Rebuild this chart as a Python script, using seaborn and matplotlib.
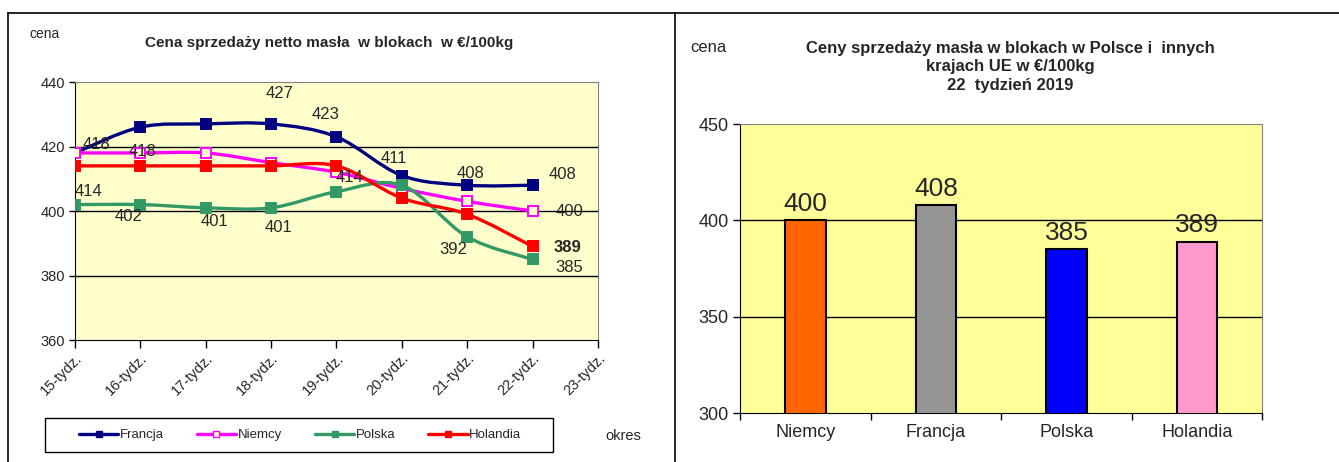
import numpy as np
import pandas as pd
import matplotlib.pyplot as plt
import matplotlib.transforms as mtransforms
import seaborn as sns
from matplotlib.path import Path
from matplotlib.patches import PathPatch, Rectangle
from matplotlib.lines import Line2D

sns.set_style("white")
plt.rcParams['font.family'] = ['Liberation Sans', 'DejaVu Sans']

# dane - wykres liniowy (tygodnie 15-22)
weeks = ['15-tydz.', '16-tydz.', '17-tydz.', '18-tydz.', '19-tydz.',
         '20-tydz.', '21-tydz.', '22-tydz.', '23-tydz.']
francja = [418, 426, 427, 427, 423, 411, 408, 408]
niemcy = [418, 418, 418, 415, 412, 407, 403, 400]
polska = [402, 402, 401, 401, 406, 408, 392, 385]
holandia = [414, 414, 414, 414, 414, 404, 399, 389]

# dane - wykres słupkowy (22 tydzień 2019)
bar_countries = ['Niemcy', 'Francja', 'Polska', 'Holandia']
bar_prices = [400, 408, 385, 389]

series = [
    ('Francja', francja, '#000080', '#000080'),
    ('Niemcy', niemcy, '#FF00FF', '#FFFFCC'),
    ('Polska', polska, '#339966', '#339966'),
    ('Holandia', holandia, '#FF0000', '#FF0000'),
]

# etykiety: (seria, indeks tygodnia, przesunięcie w pikselach, pogrubienie)
point_labels = [
    ('Francja', 0, (22, 8), False), ('Francja', 3, (8, 30), False),
    ('Francja', 4, (-11, 22), False), ('Francja', 5, (-8, 17), False),
    ('Francja', 6, (3, 12), False), ('Francja', 7, (30, 11), False),
    ('Niemcy', 1, (2, 1), False), ('Niemcy', 7, (37, 0), False),
    ('Holandia', 0, (14, -26), False), ('Holandia', 4, (13, -12), False),
    ('Holandia', 7, (35, -1), True),
    ('Polska', 1, (-12, -12), False), ('Polska', 2, (9, -14), False),
    ('Polska', 3, (7, -20), False), ('Polska', 6, (-14, -13), False),
    ('Polska', 7, (37, -8), False),
]


def smooth_path(xs, ys):
    # wygładzona linia jak w Excelu (krzywe Beziera przez punkty)
    pts = np.column_stack([xs, ys]).astype(float)
    n = len(pts)
    verts, codes = [pts[0]], [Path.MOVETO]
    for i in range(n - 1):
        p0, p1 = pts[max(i - 1, 0)], pts[i]
        p2, p3 = pts[i + 1], pts[min(i + 2, n - 1)]
        verts += [p1 + (p2 - p0) / 6, p2 - (p3 - p1) / 6, p2]
        codes += [Path.CURVE4] * 3
    return Path(verts, codes)


fig = plt.figure(figsize=(13.39, 4.62), dpi=100)

# ---------------- lewy wykres ----------------
ax1 = fig.add_axes([0.056, 0.264, 0.3906, 0.5585])
ax1.set_facecolor('#FFFFCC')
x_idx = np.arange(len(francja))
handles = []
for name, vals, col, face in series:
    ax1.add_patch(PathPatch(smooth_path(x_idx, vals), facecolor='none',
                            edgecolor=col, lw=2.4, zorder=3))
    sns.lineplot(x=x_idx, y=vals, ax=ax1, color=col, linewidth=0, marker='s',
                 markersize=6.5, markerfacecolor=face, markeredgecolor=col,
                 markeredgewidth=1.4, zorder=4)
    handles.append(Line2D([0], [0], color=col, lw=2.4, marker='s', markersize=5,
                          markerfacecolor=face, markeredgecolor=col))

lookup = {name: vals for name, vals, _, _ in series}
for name, i, (dx, dy), bold in point_labels:
    ax1.annotate(str(lookup[name][i]), (i, lookup[name][i]), xytext=(dx, dy),
                 textcoords='offset pixels', ha='center', va='center',
                 fontsize=12, fontweight='bold' if bold else 'normal', zorder=5)

ax1.set_xlim(0, 8)
ax1.set_ylim(360, 440)
ax1.set_yticks([360, 380, 400, 420, 440])
ax1.set_xticks(range(len(weeks)))
ax1.set_xticklabels(weeks, rotation=45, ha='right', va='top', rotation_mode='anchor')
off = mtransforms.ScaledTranslation(8 / 100, -2 / 100, fig.dpi_scale_trans)
for lab in ax1.get_xticklabels():
    lab.set_transform(lab.get_transform() + off)
for y in [380, 400, 420]:
    ax1.axhline(y, color='black', lw=1, zorder=1)
ax1.tick_params(axis='x', direction='out', length=6, width=1, color='black', labelsize=10.5, pad=2)
ax1.tick_params(axis='y', direction='out', length=4, width=1, color='black', labelsize=10.5, pad=3)
ax1.tick_params(bottom=True, left=True)
for s in ['left', 'bottom']:
    ax1.spines[s].set_color('black')
for s in ['top', 'right']:
    ax1.spines[s].set_color('#808080')
ax1.set_xlabel('')
ax1.set_ylabel('')

fig.text(329 / 1339, 1 - 43 / 462, 'Cena sprzedaży netto masła  w blokach  w €/100kg',
         ha='center', va='center', fontsize=11, fontweight='bold')
fig.text(44 / 1339, 1 - 34 / 462, 'cena', ha='center', va='center', fontsize=10)
fig.text(623 / 1339, 1 - 436 / 462, 'okres', ha='center', va='center', fontsize=10.5)

# legenda z osobną ramką
fig.add_artist(Rectangle((45 / 1339, 1 - 452 / 462), 508 / 1339, 34 / 462,
                         transform=fig.transFigure, facecolor='white',
                         edgecolor='black', lw=1, zorder=0))
leg = fig.legend(handles, [s[0] for s in series], loc='center',
                 bbox_to_anchor=(300 / 1339, 1 - 435 / 462), ncol=4,
                 fontsize=9.5, frameon=False, handlelength=3.0,
                 handletextpad=0.1, columnspacing=2.5)

# ---------------- prawy wykres ----------------
ax2 = fig.add_axes([0.553, 0.106, 0.3895, 0.6256])
ax2.set_facecolor('#FFFF99')
df_bar = pd.DataFrame({'kraj': bar_countries, 'cena': bar_prices})
bar_colors = ['#FF6600', '#969696', '#0000FF', '#FF99CC']
sns.barplot(data=df_bar, x='kraj', y='cena', hue='kraj', palette=bar_colors,
            saturation=1, width=0.31, edgecolor='black', linewidth=1.5,
            legend=False, ax=ax2, zorder=3)
for i, v in enumerate(bar_prices):
    ax2.annotate(str(v), (i, v), xytext=(0, 3), textcoords='offset points',
                 ha='center', va='bottom', fontsize=19, zorder=5)
ax2.set_ylim(300, 450)
ax2.set_xlim(-0.5, 3.5)
ax2.set_yticks([300, 350, 400, 450])
for y in [350, 400]:
    ax2.axhline(y, color='black', lw=1, zorder=1)
ax2.set_xticks([-0.5, 0.5, 1.5, 2.5, 3.5], minor=True)
ax2.tick_params(axis='x', which='major', length=0, labelsize=13, pad=8)
ax2.tick_params(axis='x', which='minor', direction='out', length=5, width=1, color='black', bottom=True)
ax2.tick_params(axis='y', direction='out', length=5, width=1, color='black', labelsize=13, left=True)
for s in ['left', 'bottom']:
    ax2.spines[s].set_color('black')
for s in ['top', 'right']:
    ax2.spines[s].set_color('#808080')
ax2.set_xlabel('')
ax2.set_ylabel('')

fig.text(1010 / 1339, 1 - 67 / 462,
         'Ceny sprzedaży masła w blokach w Polsce i  innych\nkrajach UE w €/100kg\n22  tydzień 2019',
         ha='center', va='center', fontsize=12, fontweight='bold', linespacing=1.32)
fig.text(708 / 1339, 1 - 47 / 462, 'cena', ha='center', va='center', fontsize=12)

# ramki paneli
for xs, ys in [([8, 1339], [13, 13]), ([8, 8], [13, 462]), ([675, 675], [13, 462])]:
    fig.add_artist(Line2D([x / 1339 for x in xs], [1 - y / 462 for y in ys],
                          transform=fig.transFigure, color='black', lw=1.2))

fig.savefig('out.png', dpi=100)
